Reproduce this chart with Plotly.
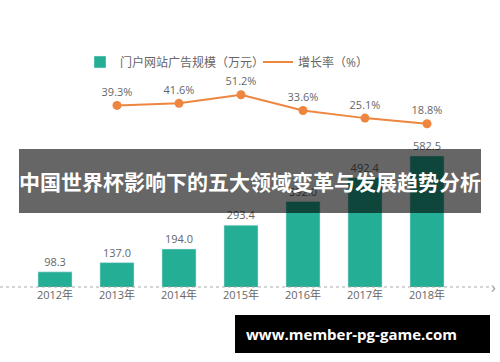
import plotly.graph_objects as go

years = ["2012年", "2013年", "2014年", "2015年", "2016年", "2017年", "2018年"]
ad_scale = [98.3, 137.0, 194.0, 293.4, 392.0, 492.4, 582.5]
growth_years = ["2013年", "2014年", "2015年", "2016年", "2017年", "2018年"]
growth_rate = [39.3, 41.6, 51.2, 33.6, 25.1, 18.8]

bar_name = "门户网站广告规模（万元）"
line_name = "增长率（%）"
title_text = "中国世界杯影响下的五大领域变革与发展趋势分析"
watermark = "www.member-pg-game.com"

W, H = 500, 362
TEAL = "#25AE96"
ORANGE = "#EE8640"
GRAY = "#666666"
FONT = "Open Sans, Noto Sans CJK SC, sans-serif"

def px(x):
    return x / W

def py(y):
    return 1 - y / H

fig = go.Figure()
fig.add_trace(go.Bar(
    x=years, y=ad_scale, name=bar_name, marker_color=TEAL, width=0.55,
    text=[f"{v:.1f}" for v in ad_scale], textposition="outside",
    textfont=dict(size=11, color=GRAY, family=FONT), cliponaxis=False,
    legend="legend",
))
fig.add_trace(go.Scatter(
    x=growth_years, y=growth_rate, yaxis="y2", mode="lines+markers+text",
    line=dict(color=ORANGE, width=2), marker=dict(size=9, color=ORANGE),
    text=[f"{v:.1f}%" for v in growth_rate], textposition="top center",
    textfont=dict(size=11, color=GRAY, family=FONT), showlegend=False, cliponaxis=False,
))
fig.add_trace(go.Scatter(
    x=[None], y=[None], yaxis="y2", mode="lines", name=line_name,
    line=dict(color=ORANGE, width=2), legend="legend2",
))

plot_top, plot_bot = 40, 287
leg_common = dict(orientation="h", yanchor="middle", xanchor="left",
                  font=dict(size=12, color=GRAY, family=FONT),
                  bgcolor="rgba(0,0,0,0)", itemwidth=30)
fig.update_layout(
    width=W, height=H, margin=dict(l=0, r=0, t=0, b=0),
    paper_bgcolor="white", plot_bgcolor="white",
    font=dict(family=FONT, color=GRAY),
    xaxis=dict(domain=[0, 493 / W], range=[-55 / 62, (493 - 55) / 62],
               showgrid=False, zeroline=False, showline=False, ticks="",
               tickfont=dict(size=11, color=GRAY, family=FONT)),
    yaxis=dict(domain=[py(plot_bot), py(plot_top)], range=[35, 35 + 247 / 0.2393],
               visible=False),
    yaxis2=dict(overlaying="y", range=[-163.4, 112.3], visible=False),
    legend=dict(x=px(80), y=py(62), **leg_common),
    legend2=dict(x=px(258), y=py(62), **leg_common),
    shapes=[
        dict(type="line", xref="paper", yref="paper", x0=0, x1=px(492),
             y0=py(plot_bot), y1=py(plot_bot), line=dict(color="#AAAAAA", width=1, dash="dot")),
        dict(type="rect", xref="paper", yref="paper", x0=px(19), x1=px(481),
             y0=py(213), y1=py(149), fillcolor="rgba(0,0,0,0.6)", line=dict(width=0),
             layer="above"),
        dict(type="rect", xref="paper", yref="paper", x0=px(235), x1=px(490),
             y0=py(353), y1=py(315), fillcolor="black", line=dict(width=0),
             layer="above"),
    ],
    annotations=[
        dict(text="›", xref="paper", yref="paper", x=px(493), y=py(plot_bot),
             showarrow=False, font=dict(size=16, color="#999999"), xanchor="center",
             yanchor="middle"),
        dict(text=f"<b>{title_text}</b>", xref="paper", yref="paper", x=px(250), y=py(181),
             showarrow=False, font=dict(size=21, color="white", family="Noto Sans CJK SC"),
             xanchor="center", yanchor="middle"),
        dict(text=f"<b>{watermark}</b>", xref="paper", yref="paper", x=px(351.5), y=py(334),
             showarrow=False, font=dict(size=15, color="white", family="Open Sans"),
             xanchor="center", yanchor="middle"),
    ],
)
fig.write_html("out.html", config={"displayModeBar": False},
               post_script="document.body.style.margin='0';")
